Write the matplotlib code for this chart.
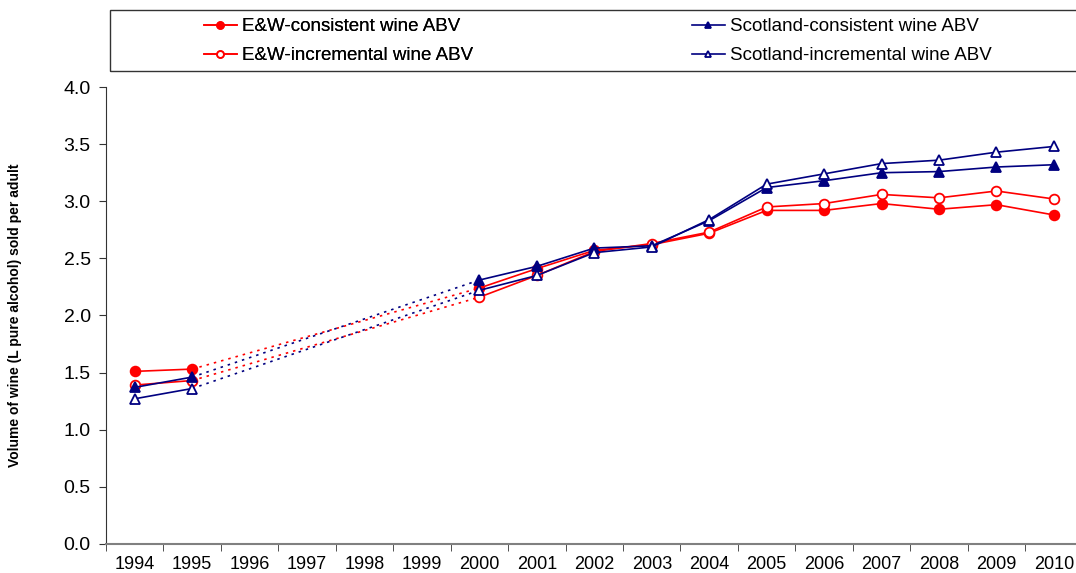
import numpy as np
from matplotlib import pyplot as plt
from matplotlib.patches import Rectangle

years = [str(y) for y in range(1994, 2011)]
nan = np.nan

# 1996-1999 have no data; gap bridged with a dotted line
ew_consistent = [1.51, 1.53, nan, nan, nan, nan, 2.24, 2.41, 2.57, 2.62, 2.72,
                 2.92, 2.92, 2.98, 2.93, 2.97, 2.88]
scot_consistent = [1.37, 1.46, nan, nan, nan, nan, 2.31, 2.43, 2.59, 2.61, 2.83,
                   3.12, 3.18, 3.25, 3.26, 3.30, 3.32]
ew_incremental = [1.39, 1.43, nan, nan, nan, nan, 2.16, 2.35, 2.56, 2.63, 2.73,
                  2.95, 2.98, 3.06, 3.03, 3.09, 3.02]
scot_incremental = [1.27, 1.36, nan, nan, nan, nan, 2.22, 2.35, 2.55, 2.60, 2.84,
                    3.15, 3.24, 3.33, 3.36, 3.43, 3.48]

RED = '#FF0000'
NAVY = '#000080'

plt.rcParams['font.family'] = ['Liberation Sans', 'DejaVu Sans']

fig = plt.figure(figsize=(10.76, 5.73), dpi=100)
ax = fig.add_axes([0.0985, 0.051, 0.905, 0.797])

x = np.arange(len(years))

series = [
  (ew_consistent, 'E&W-consistent wine ABV', RED, 'o', RED),
  (ew_incremental, 'E&W-incremental wine ABV', RED, 'o', 'white'),
  (scot_consistent, 'Scotland-consistent wine ABV', NAVY, '^', NAVY),
  (scot_incremental, 'Scotland-incremental wine ABV', NAVY, '^', 'white'),
]

handles = []
for vals, label, col, mk, fc in series:
  v = np.array(vals)
  ok = ~np.isnan(v)
  xi = x[ok]
  vi = v[ok]
  # dotted bridge over the missing years
  ax.plot([xi[1], xi[2]], [vi[1], vi[2]], color=col, lw=1.2,
          linestyle=(0, (1.5, 3)), zorder=2)
  h, = ax.plot(x, v, color=col, lw=1.2, marker=mk, markersize=7,
               markerfacecolor=fc, markeredgecolor=col, markeredgewidth=1.3,
               label=label, zorder=3)
  handles.append(h)

ax.set_ylim(0, 4.0)
yt = np.arange(0, 4.01, 0.5)
ax.set_yticks(yt)
ax.set_yticklabels([f"{t:.1f}" for t in yt], fontsize=14)
ax.set_xlim(-0.5, 16.45)
ax.set_xticks(x)
ax.set_xticklabels(years, fontsize=13)
ax.set_xticks(np.arange(-0.5, 16.5, 1), minor=True)
ax.tick_params(axis='x', which='major', length=0, pad=9)
ax.tick_params(axis='x', which='minor', length=5, direction='out', color='#333333')
ax.tick_params(axis='y', length=5, direction='out', color='#333333', pad=6)

for s in ['top', 'right']:
  ax.spines[s].set_visible(False)
ax.spines['left'].set_color('#333333')
ax.spines['bottom'].set_color('#808080')
ax.spines['bottom'].set_linewidth(1.5)

ax.set_ylabel('Volume of wine (L pure alcohol) sold per adult', fontsize=10,
              fontweight='bold', labelpad=30)

# legend frame runs off the right edge like the original
fig.patches.append(Rectangle((110 / 1076, 1 - 71 / 573), 0.95, 61 / 573,
                             transform=fig.transFigure, fill=False,
                             edgecolor='#333333', lw=1.0))

leg_kw = dict(loc='upper left', frameon=False, fontsize=13.5, handlelength=1.75,
              handletextpad=0.3, borderpad=0, borderaxespad=0, labelspacing=0.65,
              markerscale=0.7)
leg1 = fig.legend(handles=handles[:2], bbox_to_anchor=(204 / 1076, 1 - 18 / 573), **leg_kw)
fig.add_artist(leg1)
fig.legend(handles=handles[2:], bbox_to_anchor=(692 / 1076, 1 - 18 / 573), **leg_kw)

fig.savefig('out.png', dpi=100)
